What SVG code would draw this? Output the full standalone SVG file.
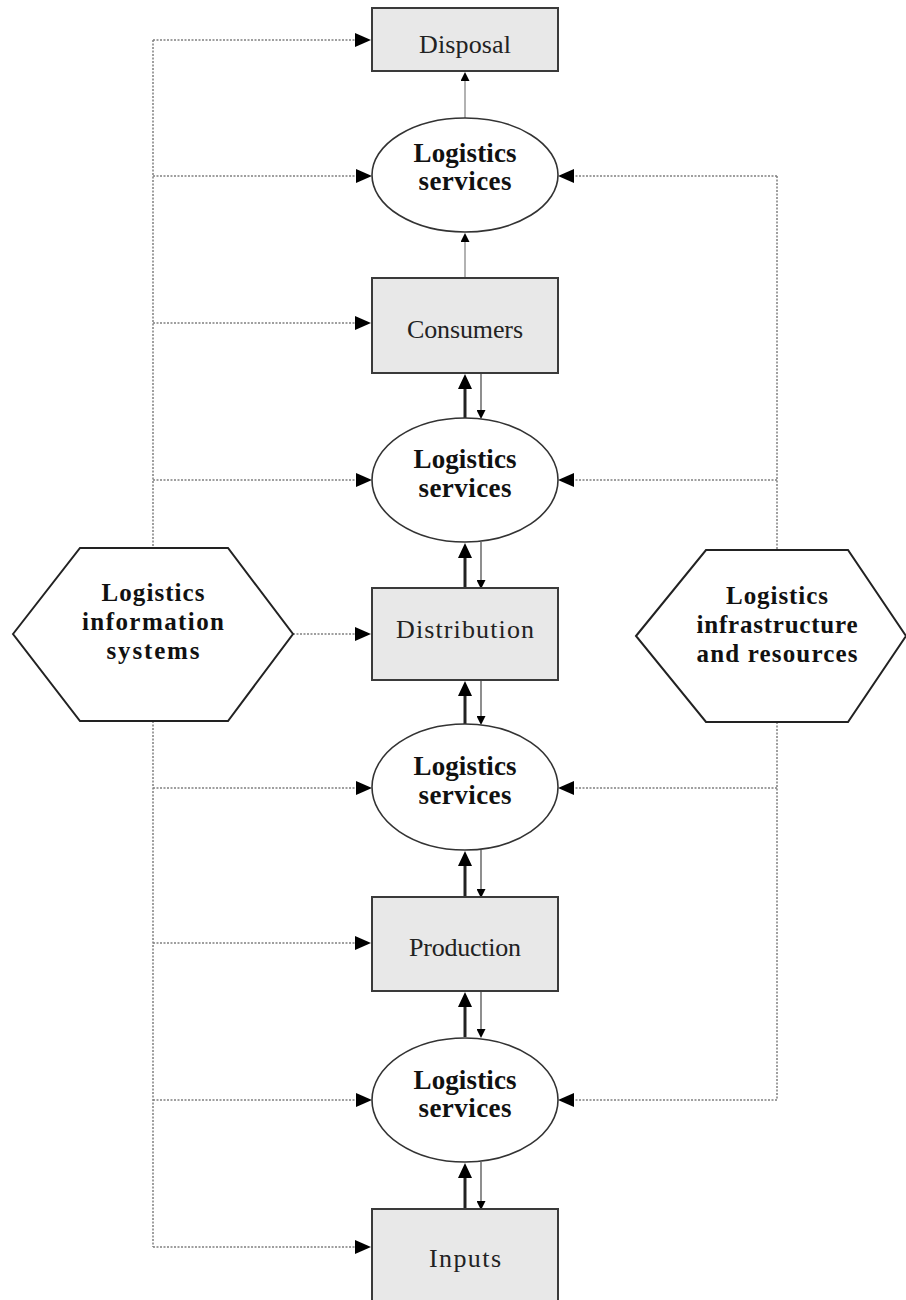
<svg xmlns="http://www.w3.org/2000/svg" width="906" height="1300" viewBox="0 0 906 1300">
<style>
.box{fill:#e8e8e8;stroke:#3a3a3a;stroke-width:2}
.ell{fill:#fff;stroke:#333;stroke-width:1.6}
.hex{fill:#fff;stroke:#222;stroke-width:2}
.bt{font-family:"Liberation Serif","DejaVu Serif",serif;font-size:26px;fill:#222;text-anchor:middle}
.et{font-family:"Liberation Serif","DejaVu Serif",serif;font-size:27px;font-weight:bold;fill:#111;text-anchor:middle}
.ht{font-family:"Liberation Serif","DejaVu Serif",serif;font-size:25px;font-weight:bold;fill:#111;text-anchor:middle}
.dot{fill:none;stroke:#808080;stroke-width:1.5;stroke-dasharray:2 1.5}
.thin{fill:none;stroke:#999;stroke-width:1.5}
.thinb{fill:none;stroke:#444;stroke-width:1.2}
.thick{fill:none;stroke:#222;stroke-width:3}
</style>
<defs>
<marker id="big" markerUnits="userSpaceOnUse" markerWidth="16" markerHeight="14" refX="4" refY="7" orient="auto"><path d="M0,0 L16,7 L0,14 z" fill="#000"/></marker>
<marker id="up" markerUnits="userSpaceOnUse" markerWidth="15" markerHeight="14" refX="4" refY="7" orient="auto"><path d="M0,0 L15,7 L0,14 z" fill="#000"/></marker>
<marker id="sm" markerUnits="userSpaceOnUse" markerWidth="9" markerHeight="9" refX="2" refY="4.5" orient="auto"><path d="M0,0 L9,4.5 L0,9 z" fill="#000"/></marker>
</defs>

<g id="connectors">
<path class="dot" d="M153,40 V548 M153,721 V1247"/>
<path class="dot" d="M153,40 H359" marker-end="url(#big)"/>
<path class="dot" d="M153,176 H360" marker-end="url(#big)"/>
<path class="dot" d="M153,323 H359" marker-end="url(#big)"/>
<path class="dot" d="M153,480 H360" marker-end="url(#big)"/>
<path class="dot" d="M293,634 H359" marker-end="url(#big)"/>
<path class="dot" d="M153,788 H360" marker-end="url(#big)"/>
<path class="dot" d="M153,943 H359" marker-end="url(#big)"/>
<path class="dot" d="M153,1100 H360" marker-end="url(#big)"/>
<path class="dot" d="M153,1247 H359" marker-end="url(#big)"/>
<path class="dot" d="M777,176 V550 M777,722 V1100"/>
<path class="dot" d="M777,176 H570" marker-end="url(#big)"/>
<path class="dot" d="M777,480 H570" marker-end="url(#big)"/>
<path class="dot" d="M777,788 H570" marker-end="url(#big)"/>
<path class="dot" d="M777,1100 H570" marker-end="url(#big)"/>
<path class="thin" d="M465,118 V79" marker-end="url(#sm)"/>
<path class="thin" d="M465,278 V240" marker-end="url(#sm)"/>
<path class="thick" d="M465,418 V385" marker-end="url(#up)"/>
<path class="thinb" d="M481,373 V412" marker-end="url(#sm)"/>
<path class="thick" d="M465,588 V554" marker-end="url(#up)"/>
<path class="thinb" d="M481,542 V582" marker-end="url(#sm)"/>
<path class="thick" d="M465,724 V692" marker-end="url(#up)"/>
<path class="thinb" d="M481,680 V718" marker-end="url(#sm)"/>
<path class="thick" d="M465,897 V862" marker-end="url(#up)"/>
<path class="thinb" d="M481,850 V891" marker-end="url(#sm)"/>
<path class="thick" d="M465,1037 V1003" marker-end="url(#up)"/>
<path class="thinb" d="M481,991 V1031" marker-end="url(#sm)"/>
<path class="thick" d="M465,1209 V1174" marker-end="url(#up)"/>
<path class="thinb" d="M481,1162 V1203" marker-end="url(#sm)"/>
</g>

<g id="disposal"><rect class="box" x="372" y="8" width="186" height="63"/><text class="bt" x="465" y="53" textLength="92">Disposal</text></g>
<g id="services1"><ellipse class="ell" cx="465" cy="175" rx="93" ry="57"/><text class="et" x="465" y="162" textLength="103">Logistics</text><text class="et" x="465" y="190" textLength="93">services</text></g>
<g id="consumers"><rect class="box" x="372" y="278" width="186" height="95"/><text class="bt" x="465" y="338" textLength="116">Consumers</text></g>
<g id="services2"><ellipse class="ell" cx="465" cy="480" rx="93" ry="62"/><text class="et" x="465" y="468" textLength="103">Logistics</text><text class="et" x="465" y="497" textLength="93">services</text></g>
<g id="distribution"><rect class="box" x="372" y="588" width="186" height="92"/><text class="bt" x="465" y="638" textLength="138">Distribution</text></g>
<g id="services3"><ellipse class="ell" cx="465" cy="787" rx="93" ry="63"/><text class="et" x="465" y="775" textLength="103">Logistics</text><text class="et" x="465" y="804" textLength="93">services</text></g>
<g id="production"><rect class="box" x="372" y="897" width="186" height="94"/><text class="bt" x="465" y="956" textLength="112">Production</text></g>
<g id="services4"><ellipse class="ell" cx="465" cy="1100" rx="93" ry="62"/><text class="et" x="465" y="1089" textLength="103">Logistics</text><text class="et" x="465" y="1117" textLength="93">services</text></g>
<g id="inputs"><rect class="box" x="372" y="1209" width="186" height="110"/><text class="bt" x="465" y="1267" textLength="72">Inputs</text></g>

<g id="info-systems"><polygon class="hex" points="13,634 80,548 228,548 293,634 228,721 80,721"/>
<text class="ht" x="153" y="601" textLength="103">Logistics</text><text class="ht" x="153" y="630" textLength="142">information</text><text class="ht" x="153" y="659" textLength="93">systems</text></g>
<g id="infrastructure"><polygon class="hex" points="636,636 706,550 848,550 906,636 848,722 706,722"/>
<text class="ht" x="777" y="604" textLength="102">Logistics</text><text class="ht" x="777" y="633" textLength="161">infrastructure</text><text class="ht" x="777" y="662" textLength="161">and resources</text></g>
</svg>
